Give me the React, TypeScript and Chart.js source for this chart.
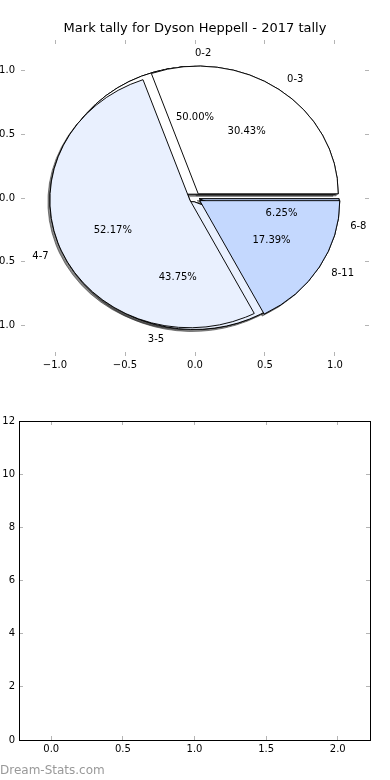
import React, { useEffect, useRef } from 'react';
import { Chart, registerables } from 'chart.js';

Chart.register(...registerables);
Chart.defaults.font.family = '"DejaVu Sans", sans-serif';
Chart.defaults.color = '#000';

// ---------- data ----------
const TITLE = 'Mark tally for Dyson Heppell - 2017 tally';
const outerLabels = ['0-3', '4-7', '8-11'];
const outerCounts = [7, 12, 4];
const innerLabels = ['0-2', '3-5', '6-8'];
const innerCounts = [8, 7, 1];
const wedgeColors = ['#ffffff', '#e9f0fe', '#c4d8fe'];
const explodeOuter = 0.04;
const explodeInner = 0.03;
const pieXTicks = [-1, -0.5, 0, 0.5, 1];
const pieYTicks = [-1, -0.5, 0, 0.5, 1];
const pieXRange = [-1.243, 1.243];
const pieYRange = [-1.237, 1.237];
const barXTicks = [0, 0.5, 1, 1.5, 2];
const barYTicks = [0, 2, 4, 6, 8, 10, 12];
const barXRange = [-0.225, 2.225];
const barYRange = [0, 12];
const WATERMARK = 'Dream-Stats.com';

const TICK_GREY = '#b4b4b4';

const fmt1 = (v: number) => (v < 0 ? '\u2212' : '') + Math.abs(v).toFixed(1);
const fmt0 = (v: number) => String(Math.round(v));

function axis(
  position: string,
  range: number[],
  ticks: number[],
  fmt: (v: number) => string,
  size: number,
  showLabels: boolean,
  pad: number,
  border: boolean
): any {
  const horizontal = position === 'top' || position === 'bottom';
  return {
    type: 'linear',
    position,
    axis: horizontal ? 'x' : 'y',
    min: range[0],
    max: range[1],
    afterBuildTicks: (s: any) => {
      s.ticks = ticks.map((v) => ({ value: v }));
    },
    afterFit: (s: any) => {
      if (horizontal) s.height = size;
      else s.width = size;
    },
    ticks: {
      display: showLabels,
      padding: pad,
      color: '#000',
      font: { size: 10 },
      autoSkip: false,
      maxRotation: 0,
      callback: (v: any) => fmt(Number(v)),
    },
    grid: {
      display: true,
      drawOnChartArea: false,
      drawTicks: true,
      tickLength: -4,
      tickColor: TICK_GREY,
      tickWidth: 1,
    },
    border: { display: border, color: '#000', width: 1 },
  };
}

function pieDecor(axesChart: any, explodes: number[], labelSets: string[][], countSets: number[][]) {
  const geom = () => {
    const sx = axesChart.scales.x;
    const sy = axesChart.scales.y;
    const cx = sx.getPixelForValue(0);
    const cy = sy.getPixelForValue(0);
    const rx = sx.getPixelForValue(1) - cx;
    const ry = cy - sy.getPixelForValue(1);
    return { cx, cy, rx, ry };
  };
  return {
    id: 'mplPie',
    afterDatasetsUpdate(chart: any) {
      const { cx, cy, rx } = geom();
      chart.data.datasets.forEach((_: any, i: number) => {
        const e = explodes[i];
        chart.getDatasetMeta(i).data.forEach((el: any) => {
          const mid = (el.startAngle + el.endAngle) / 2;
          el.x = cx + Math.cos(mid) * e * rx;
          el.y = cy + Math.sin(mid) * e * rx;
          el.innerRadius = 0;
          el.outerRadius = rx;
        });
      });
    },
    beforeDatasetsDraw(chart: any) {
      const { cy, rx, ry } = geom();
      const ctx = chart.ctx;
      ctx.save();
      ctx.translate(0, cy);
      ctx.scale(1, -ry / rx);
      ctx.translate(0, -cy);
      ctx.shadowColor = 'rgba(40,40,40,0.55)';
      ctx.shadowOffsetX = -2;
      ctx.shadowOffsetY = 2;
      ctx.shadowBlur = 0;
      for (let i = chart.data.datasets.length - 1; i >= 0; i--) {
        chart.getDatasetMeta(i).data.forEach((el: any) => el.draw(ctx));
      }
      ctx.shadowColor = 'rgba(0,0,0,0)';
      ctx.shadowOffsetX = 0;
      ctx.shadowOffsetY = 0;
    },
    afterDatasetsDraw(chart: any) {
      chart.ctx.restore();
    },
    afterDraw(chart: any) {
      const { cx, cy, rx, ry } = geom();
      const ctx = chart.ctx;
      ctx.save();
      ctx.font = '10px "DejaVu Sans", sans-serif';
      ctx.fillStyle = '#000';
      ctx.textBaseline = 'middle';
      for (let i = chart.data.datasets.length - 1; i >= 0; i--) {
        const e = explodes[i];
        const counts = countSets[i];
        const total = counts.reduce((a, b) => a + b, 0);
        chart.getDatasetMeta(i).data.forEach((el: any, j: number) => {
          const mid = (el.startAngle + el.endAngle) / 2;
          const c = Math.cos(mid);
          const s = Math.sin(mid);
          const xt = (e + 1.1) * c;
          ctx.textAlign = xt > 0 ? 'left' : 'right';
          ctx.fillText(labelSets[i][j], cx + xt * rx, cy - (e + 1.1) * s * ry);
          ctx.textAlign = 'center';
          ctx.fillText(
            ((counts[j] / total) * 100).toFixed(2) + '%',
            cx + (e + 0.6) * c * rx,
            cy - (e + 0.6) * s * ry
          );
        });
      }
      ctx.restore();
    },
  };
}

export default function App() {
  const topAxesRef = useRef<HTMLCanvasElement>(null);
  const pieRef = useRef<HTMLCanvasElement>(null);
  const bottomRef = useRef<HTMLCanvasElement>(null);

  useEffect(() => {
    const axesChart = new Chart(topAxesRef.current as HTMLCanvasElement, {
      type: 'scatter',
      data: { datasets: [] },
      options: {
        responsive: false,
        animation: false,
        events: [],
        layout: { padding: 0 },
        plugins: {
          legend: { display: false },
          tooltip: { enabled: false },
          title: {
            display: true,
            text: TITLE,
            color: '#000',
            font: { size: 13, weight: 'normal' },
            padding: { top: 21, bottom: 3.4 },
          },
        },
        scales: {
          x: axis('bottom', pieXRange, pieXTicks, fmt1, 24, true, 7, false),
          x2: axis('top', pieXRange, pieXTicks, fmt1, 0, false, 0, false),
          y: axis('left', pieYRange, pieYTicks, fmt1, 21, true, 10, false),
          y2: axis('right', pieYRange, pieYTicks, fmt1, 21, false, 0, false),
        },
      } as any,
    });

    const pieChart = new Chart(pieRef.current as HTMLCanvasElement, {
      type: 'pie',
      data: {
        labels: outerLabels,
        datasets: [
          {
            data: outerCounts,
            backgroundColor: wedgeColors,
            borderColor: '#000',
            borderWidth: 1,
            borderJoinStyle: 'miter',
            clip: false,
          } as any,
          {
            data: innerCounts,
            backgroundColor: wedgeColors,
            borderColor: '#000',
            borderWidth: 1,
            borderJoinStyle: 'miter',
            clip: false,
          } as any,
        ],
      },
      options: {
        responsive: false,
        animation: false,
        events: [],
        rotation: 90,
        layout: { padding: 0 },
        plugins: { legend: { display: false }, tooltip: { enabled: false } },
      } as any,
      plugins: [
        pieDecor(axesChart, [explodeOuter, explodeInner], [outerLabels, innerLabels], [outerCounts, innerCounts]),
      ],
    });

    const bottomChart = new Chart(bottomRef.current as HTMLCanvasElement, {
      type: 'scatter',
      data: { datasets: [] },
      options: {
        responsive: false,
        animation: false,
        events: [],
        layout: { padding: 0 },
        plugins: { legend: { display: false }, tooltip: { enabled: false } },
        scales: {
          x: axis('bottom', barXRange, barXTicks, fmt1, 40, true, 7, true),
          x2: axis('top', barXRange, barXTicks, fmt1, 21, false, 0, true),
          y: axis('left', barYRange, barYTicks, fmt0, 19, true, 8, true),
          y2: axis('right', barYRange, barYTicks, fmt0, 20, false, 0, true),
        },
      } as any,
    });

    return () => {
      pieChart.destroy();
      axesChart.destroy();
      bottomChart.destroy();
    };
  }, []);

  const cv = (top: number): React.CSSProperties => ({
    position: 'absolute',
    left: 0,
    top,
    width: 390,
    height: 380,
  });

  return (
    <div style={{ position: 'absolute', left: 0, top: 0, width: 390, height: 780, background: '#fff', overflow: 'hidden' }}>
      <canvas ref={topAxesRef} width={390} height={380} style={cv(0)} />
      <canvas ref={pieRef} width={390} height={380} style={cv(0)} />
      <canvas ref={bottomRef} width={390} height={380} style={cv(400)} />
      <div
        style={{
          position: 'absolute',
          left: 0,
          top: 762,
          font: '12px "DejaVu Sans", sans-serif',
          lineHeight: '16px',
          color: '#999',
          whiteSpace: 'nowrap',
        }}
      >
        {WATERMARK}
      </div>
    </div>
  );
}
